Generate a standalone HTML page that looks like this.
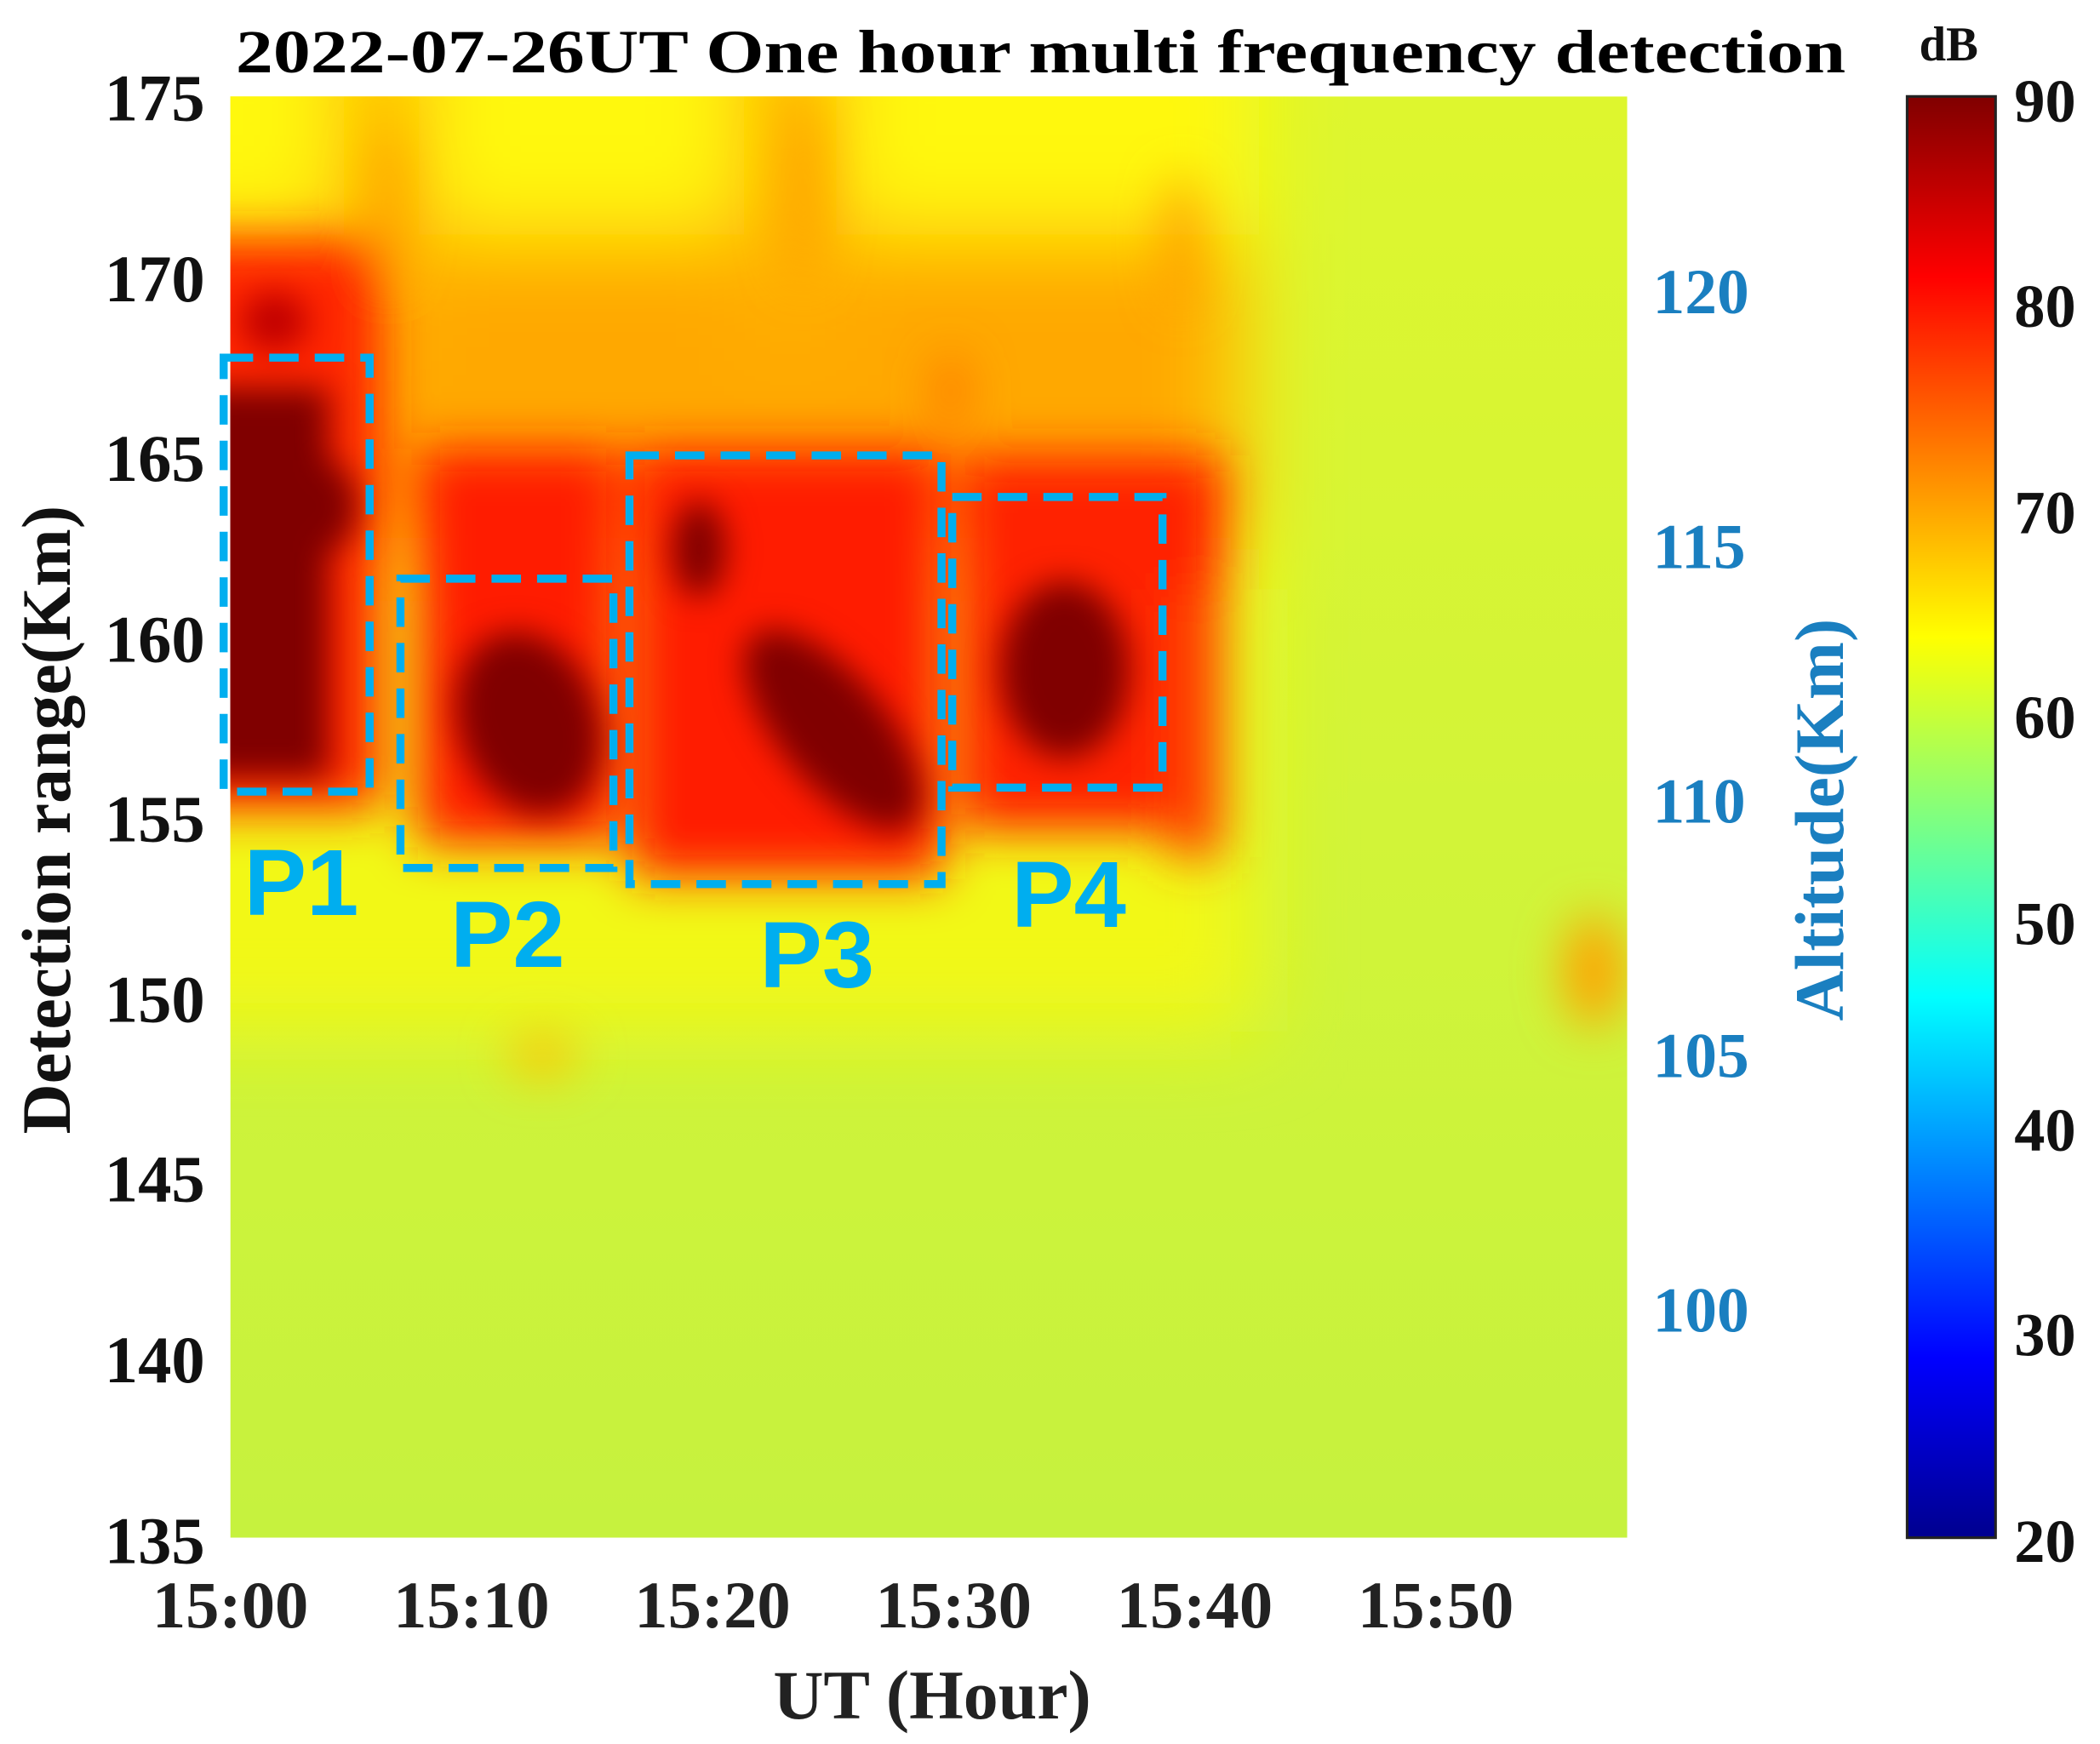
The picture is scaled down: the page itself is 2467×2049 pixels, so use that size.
<!DOCTYPE html>
<html><head><meta charset="utf-8"><style>
html,body{margin:0;padding:0;background:#fff;}
svg{display:block;}
.t{font-family:"Liberation Serif",serif;font-weight:bold;}
</style></head><body>
<svg width="2467" height="2049" viewBox="0 0 1568 1302" preserveAspectRatio="none" xmlns="http://www.w3.org/2000/svg">
<defs>
<filter id="b1" filterUnits="userSpaceOnUse" x="0" y="0" width="1568" height="1302"><feGaussianBlur stdDeviation="32"/></filter>
<filter id="b3" filterUnits="userSpaceOnUse" x="0" y="0" width="1568" height="1302"><feGaussianBlur stdDeviation="18"/></filter>
<filter id="b2" filterUnits="userSpaceOnUse" x="0" y="0" width="1568" height="1302"><feGaussianBlur stdDeviation="12"/></filter>
<clipPath id="pc"><rect x="172" y="72" width="1043" height="1076"/></clipPath>
<linearGradient id="bg" x1="0" y1="0" x2="0" y2="1">
<stop offset="0" stop-color="#def62e"/><stop offset="0.5" stop-color="#d2f438"/><stop offset="1" stop-color="#c6f23e"/>
</linearGradient>
<linearGradient id="cb" x1="0" y1="1" x2="0" y2="0">
<stop offset="0" stop-color="#00008f"/><stop offset="0.125" stop-color="#0000ff"/><stop offset="0.375" stop-color="#00ffff"/><stop offset="0.625" stop-color="#ffff00"/><stop offset="0.875" stop-color="#ff0000"/><stop offset="1" stop-color="#800000"/>
</linearGradient>
</defs>
<rect width="1568" height="1302" fill="#fff"/>
<g clip-path="url(#pc)">
<rect x="172" y="72" width="1043" height="1076" fill="url(#bg)"/>
<g filter="url(#b1)">
<rect x="80" y="0" width="860" height="460" fill="#fff80a"/>
<rect x="80" y="440" width="860" height="330" fill="#f2f816"/>
<rect x="80" y="175" width="845" height="235" fill="#ffa800"/>
<rect x="255" y="0" width="60" height="260" fill="#ffb000"/>
<rect x="555" y="0" width="70" height="260" fill="#ffb000"/>
</g>
<g filter="url(#b3)">
<rect x="120" y="180" width="165" height="425" fill="#ff2800"/>
<rect x="312" y="335" width="150" height="295" fill="#ff1c00"/>
<rect x="472" y="335" width="232" height="320" fill="#ff1c00"/>
<rect x="717" y="340" width="196" height="280" fill="#ff2000"/>
<rect x="872" y="440" width="40" height="200" fill="#ff4000"/>
<ellipse cx="1190" cy="725" rx="22" ry="42" fill="#ffa000"/>
<ellipse cx="405" cy="788" rx="26" ry="14" fill="#ffc000"/>
<ellipse cx="882" cy="180" rx="10" ry="50" fill="#ff9000"/>
<ellipse cx="710" cy="292" rx="10" ry="28" fill="#ff6a00"/>
<ellipse cx="600" cy="140" rx="14" ry="70" fill="#ffa000"/>
<ellipse cx="290" cy="150" rx="12" ry="60" fill="#ffa000"/>
</g>
<g filter="url(#b2)">
<rect x="150" y="290" width="95" height="290" fill="#800000"/>
<ellipse cx="237" cy="378" rx="30" ry="36" fill="#800000"/>
<ellipse cx="205" cy="240" rx="25" ry="22" fill="#c00000"/>
<ellipse cx="395" cy="540" rx="52" ry="70" fill="#800000" transform="rotate(-20 395 540)"/>
<ellipse cx="522" cy="410" rx="20" ry="36" fill="#800000"/>
<ellipse cx="622" cy="545" rx="40" ry="92" fill="#800000" transform="rotate(-40 622 545)"/>
<ellipse cx="795" cy="500" rx="48" ry="66" fill="#800000"/>
</g>
</g>
<g fill="none" stroke="#00aeef" stroke-width="6" stroke-dasharray="22,12">
<rect x="167" y="267" width="109" height="324"/>
<rect x="299" y="432" width="159" height="216"/>
<rect x="470" y="340" width="233" height="320"/>
<rect x="711" y="371" width="157" height="217"/>
</g>
<g font-family="Liberation Sans,sans-serif" font-weight="bold" font-size="70" fill="#00aeef" text-anchor="middle">
<text x="225" y="683">P1</text>
<text x="379" y="722">P2</text>
<text x="610" y="737">P3</text>
<text x="798" y="692">P4</text>
</g>
<text class="t" x="176" y="54" font-size="46" textLength="1202" lengthAdjust="spacingAndGlyphs">2022-07-26UT   One hour multi frequency detection</text>
<g class="t" font-size="50" text-anchor="end" fill="#111">
<text x="153" y="90">175</text><text x="153" y="225">170</text><text x="153" y="359">165</text><text x="153" y="494">160</text><text x="153" y="628">155</text><text x="153" y="763">150</text><text x="153" y="897">145</text><text x="153" y="1032">140</text><text x="153" y="1167">135</text>
</g>
<g class="t" font-size="50" text-anchor="middle" fill="#222">
<text x="172" y="1215">15:00</text><text x="352" y="1215">15:10</text><text x="532" y="1215">15:20</text><text x="712" y="1215">15:30</text><text x="892" y="1215">15:40</text><text x="1072" y="1215">15:50</text>
</g>
<text class="t" x="696" y="1283" font-size="52" text-anchor="middle" fill="#222">UT (Hour)</text>
<text class="t" font-size="52" text-anchor="middle" fill="#111" transform="translate(52,612) rotate(-90)">Detection range(Km)</text>
<g class="t" font-size="48" fill="#1a7fc0" text-anchor="start">
<text x="1234" y="234">120</text><text x="1234" y="424">115</text><text x="1234" y="614">110</text><text x="1234" y="804">105</text><text x="1234" y="994">100</text>
</g>
<text class="t" font-size="52" text-anchor="middle" fill="#1a7fc0" transform="translate(1376,612) rotate(-90)">Altitude(Km)</text>
<rect x="1424" y="72" width="66" height="1076" fill="url(#cb)" stroke="#222" stroke-width="2"/>
<text class="t" x="1455" y="45" font-size="36" text-anchor="middle" fill="#111">dB</text>
<g class="t" font-size="46" fill="#111">
<text x="1504" y="91">90</text><text x="1504" y="244">80</text><text x="1504" y="398">70</text><text x="1504" y="551">60</text><text x="1504" y="705">50</text><text x="1504" y="859">40</text><text x="1504" y="1012">30</text><text x="1504" y="1166">20</text>
</g>
</svg>
</body></html>
